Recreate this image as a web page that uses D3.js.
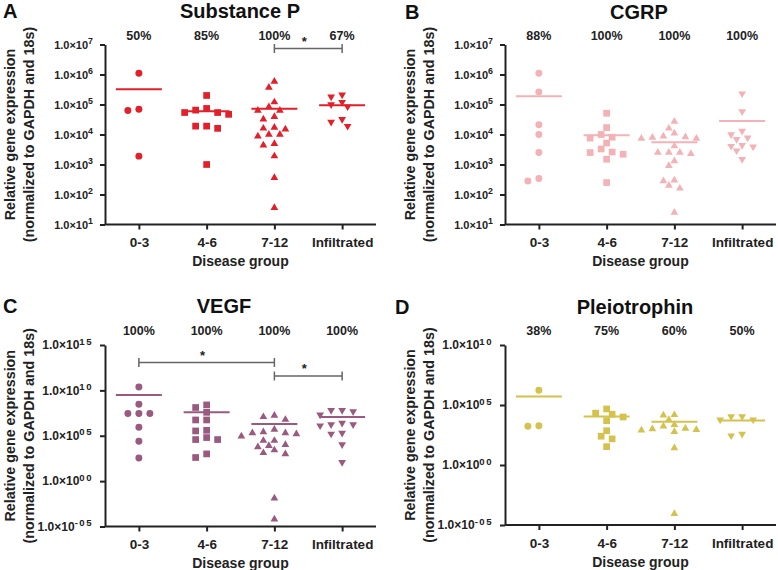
<!DOCTYPE html>
<html>
<head>
<meta charset="utf-8">
<script src="https://cdn.jsdelivr.net/npm/d3@7"></script>
<style>
  body { margin: 0; background: #fff; }
  svg { display: block; font-family: 'Liberation Sans', Arial, sans-serif; font-weight: bold; }
</style>
</head>
<body>
<svg></svg>
<script>
/* global d3:true */

// categories shared by all four panels
const groups = ['0-3', '4-6', '7-12', 'Infiltrated']

// A - Substance P
const spValues = [
  [1.1e6, 6.9e4, 6.3e4, 1.9e3],
  [2.0e5, 7.4e4, 6.5e4, 5.4e4, 5.4e4, 4.7e4, 1.9e4, 1.9e4, 1.6e4, 1.0e3],
  [5.8e5, 3.7e5, 1.2e5, 8.3e4, 6.3e4, 6.3e4, 3.9e4, 3.2e4, 1.7e4, 1.6e4,
    1.5e4, 1.0e4, 1.0e4, 8.7e3, 4.9e3, 4.4e3, 1.9e3, 3.6e2, 36],
  [2.1e5, 1.8e5, 1.2e5, 1.0e5, 8.5e4, 3.2e4, 2.6e4, 1.9e4]
]
const spMeans = [3.2e5, 6.0e4, 7.2e4, 9.5e4]
const spPercent = ['50%', '85%', '100%', '67%']
const spTicks = [1e1, 1e2, 1e3, 1e4, 1e5, 1e6, 1e7]
const spTickExp = ['1', '2', '3', '4', '5', '6', '7']

// B - CGRP
const cgValues = [
  [1.1e6, 2.6e5, 2.1e4, 1.0e4, 2.5e3, 2.8e2, 3.4e2],
  [5.1e4, 1.7e4, 1.0e4, 8.1e3, 7.6e3, 5.2e3, 3.3e3, 2.6e3, 2.5e3, 2.2e3, 1.5e3, 2.5e2],
  [2.7e4, 1.6e4, 1.1e4, 8.7e3, 8.3e3, 7.9e3, 7.4e3, 7.4e3, 4.1e3, 2.5e3,
    2.5e3, 2.5e3, 2.3e3, 1.3e3, 9.1e2, 3.0e2, 2.8e2, 2.0e2, 1.6e2, 25],
  [2.3e5, 5.8e4, 1.3e4, 1.0e4, 7.8e3, 6.9e3, 4.4e3, 4.1e3, 3.9e3, 2.9e3, 1.5e3]
]
const cgMeans = [1.9e5, 9.5e3, 5.5e3, 2.8e4]
const cgPercent = ['88%', '100%', '100%', '100%']

// C - VEGF
const vgValues = [
  [2.3e10, 2.9e8, 2.8e7, 2.8e7, 2.8e7, 8.5e5, 2.5e4, 3.6e2],
  [2.5e8, 1.3e8, 3.8e7, 5.5e6, 5.5e6, 4.0e5, 3.4e5, 6.3e4, 3.8e4, 3.8e4, 1.0e3, 4.0e2],
  [1.7e7, 1.2e7, 6.0e6, 4.8e5, 2.6e5, 2.0e5, 2.0e5, 1.6e5, 8.9e4, 2.9e4,
    2.9e4, 1.0e4, 8.1e3, 5.9e3, 2.6e3, 1.3e3, 1.0e3, 1.3e-2, 6.3e-5],
  [6.3e7, 6.3e7, 4.6e7, 2.1e7, 2.6e6, 1.7e6, 1.7e6, 1.3e6, 2.0e5, 1.6e5, 1.1e4, 1.2e2]
]
const vgMeans = [3.1e9, 3.8e7, 2.0e6, 1.2e7]
const vgPercent = ['100%', '100%', '100%', '100%']
const vgTicks = [1e-5, 1e0, 1e5, 1e10, 1e15]
const vgTickExp = ['-05', '00', '05', '10', '15']

// D - Pleiotrophin
const ptValues = [
  [1.7e6, 1.9e3, 1.7e3],
  [4.7e4, 2.1e4, 1.7e4, 1.0e4, 4.9e3, 7.2e2, 2.5e2, 1.5e2, 34],
  [1.5e4, 1.4e4, 6.0e3, 2.3e3, 1.7e3, 1.1e3, 1.0e3, 8.7e2, 7.8e2, 6.0e2, 26, 8.7e-5],
  [1.1e4, 1.1e4, 6.0e3, 6.0e3, 3.8e2, 2.8e2]
]
const ptMeans = [5.2e5, 1.1e4, 4.1e3, 5.2e3]
const ptPercent = ['38%', '75%', '60%', '50%']
const ptTicks = [1e-5, 1e0, 1e5, 1e10]
const ptTickExp = ['-05', '00', '05', '10']

// significance brackets: [panel, from, to, level]
const comparisons = [
  ['A', '7-12', 'Infiltrated', 0],
  ['C', '0-3', '7-12', 1],
  ['C', '7-12', 'Infiltrated', 2]
]

// layout of each panel
const panels = [
  {
    letter: 'A', title: 'Substance P', values: spValues, means: spMeans, percent: spPercent,
    domain: [1e1, 1e7], ticks: spTicks, tickExp: spTickExp, color: '#e3202a',
    left: 105, right: 376, top: 44.5, bottom: 224.5, titleX: 240, titleY: 17.5,
    letterX: 3, pctY: 40, tickFont: 11, supSpacing: 0
  },
  {
    letter: 'B', title: 'CGRP', values: cgValues, means: cgMeans, percent: cgPercent,
    domain: [1e1, 1e7], ticks: spTicks, tickExp: spTickExp, color: '#f2b2b6',
    left: 505, right: 776, top: 44.5, bottom: 224.5, titleX: 639, titleY: 18.5,
    letterX: 405, pctY: 40, tickFont: 11, supSpacing: 0
  },
  {
    letter: 'C', title: 'VEGF', values: vgValues, means: vgMeans, percent: vgPercent,
    domain: [1e-5, 1e15], ticks: vgTicks, tickExp: vgTickExp, color: '#9a5a80',
    left: 105, right: 376, top: 345, bottom: 526.5, titleX: 224, titleY: 313,
    letterX: 3, pctY: 335, tickFont: 12, supSpacing: 1.5
  },
  {
    letter: 'D', title: 'Pleiotrophin', values: ptValues, means: ptMeans, percent: ptPercent,
    domain: [1e-5, 1e10], ticks: ptTicks, tickExp: ptTickExp, color: '#d4c24c',
    left: 505, right: 776, top: 345, bottom: 525, titleX: 635, titleY: 314,
    letterX: 395, pctY: 335, tickFont: 12, supSpacing: 1.5
  }
]

const shapes = [d3.symbolCircle, d3.symbolSquare, d3.symbolTriangle, d3.symbolTriangle]
const shapeSizes = [38, 45, 26, 26]

const svg = d3.select('svg')
  .attr('width', 778)
  .attr('height', 570)

// spread points sideways so they don't overlap (like a dot plot)
const swarm = (vals, y, cx) => {
  const step = 5.5
  const minDist = 7
  const placed = []
  const order = vals.map((v, i) => i).sort((a, b) => vals[b] - vals[a])
  order.forEach((i) => {
    const py = y(vals[i])
    let k = 0
    for (let n = 0; n < 30; n++) {
      k = n === 0 ? 0 : (n % 2 ? -Math.ceil(n / 2) : Math.ceil(n / 2))
      const px = cx + k * step
      if (placed.every((p) => Math.hypot(p.x - px, p.y - py) >= minDist)) break
    }
    placed.push({ x: cx + k * step, y: py })
  })
  return placed
}

panels.forEach((p) => {
  const g = svg.append('g')

  const x = d3.scalePoint()
    .domain(groups)
    .range([p.left, p.right])
    .padding(0.5)

  const y = d3.scaleLog()
    .domain(p.domain)
    .range([p.bottom, p.top])

  // y axis with 1.0x10^n labels
  const yAxis = g.append('g')
    .attr('transform', `translate(${p.left}, 0)`)
    .call(d3.axisLeft(y).tickValues(p.ticks).tickSize(5).tickSizeOuter(0).tickPadding(7).tickFormat(() => ''))

  yAxis.selectAll('.tick text').each(function (d, i) {
    const t = d3.select(this)
      .attr('font-size', p.tickFont)
      .attr('font-family', null)
      .attr('fill', '#222')
    t.append('tspan').text('1.0×10')
    t.append('tspan')
      .attr('dy', '-0.5em')
      .attr('font-size', p.tickFont * 0.8)
      .attr('letter-spacing', p.supSpacing)
      .text(p.tickExp[i])
  })

  // x axis
  const xAxis = g.append('g')
    .attr('transform', `translate(0, ${p.bottom})`)
    .call(d3.axisBottom(x).tickSize(5).tickSizeOuter(0).tickPadding(8))

  xAxis.selectAll('.tick text')
    .attr('font-size', 13.5)
    .attr('font-family', null)
    .attr('fill', '#222')

  xAxis.select('.domain').attr('d', `M${p.left},0H${p.right}`)

  g.selectAll('.domain, .tick line')
    .attr('stroke', '#222')
    .attr('stroke-width', 2)

  // points
  groups.forEach((grp, gi) => {
    const pts = swarm(p.values[gi], y, x(grp))
    g.selectAll(`.pt-${gi}`)
      .data(pts)
      .enter()
      .append('path')
      .attr('class', `pt-${gi}`)
      .attr('d', d3.symbol().type(shapes[gi]).size(shapeSizes[gi]))
      .attr('transform', (d) => `translate(${d.x}, ${d.y})${gi === 3 ? 'rotate(180)' : ''}`)
      .attr('fill', p.color)
  })

  // mean lines
  g.selectAll('.mean')
    .data(p.means)
    .enter()
    .append('line')
    .attr('class', 'mean')
    .attr('x1', (d, i) => x(groups[i]) - 23)
    .attr('x2', (d, i) => x(groups[i]) + 23)
    .attr('y1', (d) => y(d))
    .attr('y2', (d) => y(d))
    .attr('stroke', p.color)
    .attr('stroke-width', 2)

  // percent labels
  g.selectAll('.pct')
    .data(p.percent)
    .enter()
    .append('text')
    .attr('class', 'pct')
    .attr('text-anchor', 'middle')
    .attr('x', (d, i) => x(groups[i]))
    .attr('y', p.pctY)
    .attr('font-size', 12.5)
    .attr('fill', '#222')
    .text((d) => d)

  // significance brackets
  comparisons.filter((c) => c[0] === p.letter).forEach((c) => {
    const x1 = x(c[1])
    const x2 = x(c[2])
    const by = p.top + 4 + c[3] * 13.5
    g.append('path')
      .attr('d', `M${x1},${by - 4.5}V${by + 4.5}M${x1},${by}H${x2}M${x2},${by - 4.5}V${by + 4.5}`)
      .attr('fill', 'none')
      .attr('stroke', '#666')
      .attr('stroke-width', 1.5)
    g.append('text')
      .attr('text-anchor', 'middle')
      .attr('x', (x1 + x2) / 2 - 4)
      .attr('y', by - 3)
      .attr('font-size', 13)
      .attr('fill', '#222')
      .text('*')
  })

  // titles
  g.append('text')
    .attr('x', p.letterX)
    .attr('y', p.titleY)
    .attr('font-size', 20)
    .attr('fill', '#111')
    .text(p.letter)

  g.append('text')
    .attr('text-anchor', 'middle')
    .attr('x', p.titleX)
    .attr('y', p.titleY)
    .attr('font-size', 20)
    .attr('fill', '#111')
    .text(p.title)

  g.append('text')
    .attr('text-anchor', 'middle')
    .attr('x', (p.left + p.right) / 2)
    .attr('y', p.bottom + 41.5)
    .attr('font-size', 14)
    .attr('fill', '#222')
    .text('Disease group')

  // y axis label, two lines
  const midY = (p.top + p.bottom) / 2
  const lx = p.left - 105
  g.append('text')
    .attr('text-anchor', 'middle')
    .attr('transform', `translate(${lx + 15}, ${midY})rotate(-90)`)
    .attr('font-size', 14.3)
    .attr('fill', '#222')
    .text('Relative gene expression')

  g.append('text')
    .attr('text-anchor', 'middle')
    .attr('transform', `translate(${lx + 34}, ${midY})rotate(-90)`)
    .attr('font-size', 14.3)
    .attr('fill', '#222')
    .text('(normalized to GAPDH and 18s)')
})
</script>
</body>
</html>
